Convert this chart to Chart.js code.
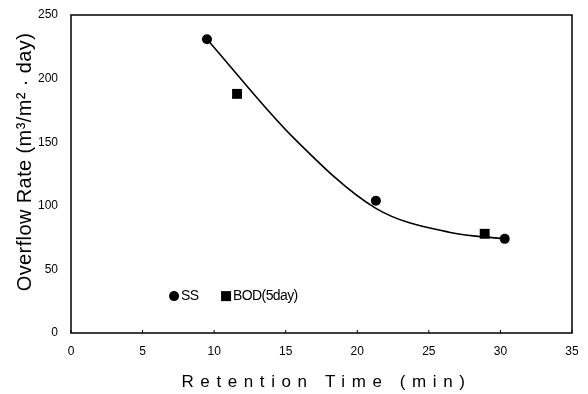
<!DOCTYPE html>
<html><head><meta charset="utf-8">
<script src="https://cdn.jsdelivr.net/npm/chart.js@4.4.1/dist/chart.umd.min.js"></script>
<style>html,body{margin:0;padding:0;background:#fff}</style>
</head><body>
<canvas id="c" width="588" height="394"></canvas>
<script>
// ---- data ----
const ssX = [9.5, 21.3, 30.3];
const ssY = [231, 104, 74];
const bodX = [11.6, 28.9];
const bodY = [188, 78];
const fitX = [9.5, 15.5, 21.3, 26.5, 30.3];
const fitY = [231, 154, 98, 79, 74];
const xTickValues = [0, 5, 10, 15, 20, 25, 30, 35];
const yTickValues = [0, 50, 100, 150, 200, 250];
const seriesNames = ['SS', 'BOD(5day)'];
const xTitle = 'Retention Time (min)';
const yTitle = 'Overflow Rate (m\u00B3/m\u00B2 \u00B7 day)';
const legendAt = {x: 7.2, y: 29};

const zip = (xs, ys) => xs.map((x, i) => ({x, y: ys[i]}));
const tickFont = {family: "'Liberation Sans Narrow','Liberation Sans',Arial,sans-serif", size: 12};

const framePlugin = {
  id: 'frame',
  beforeDraw(chart) {
    const sx = chart.scales.x, sy = chart.scales.y;
    if (!sx._wrapped) {
      const o = sx.drawTitle;
      sx.drawTitle = function () { const ctx = this.ctx; ctx.save(); ctx.letterSpacing = '6.6px'; ctx.translate(5, 0); o.apply(this, arguments); ctx.restore(); };
      sx._wrapped = true;
    }
    if (!sy._wrapped) {
      const o = sy.drawTitle;
      sy.drawTitle = function () { const ctx = this.ctx; ctx.save(); ctx.letterSpacing = '0.4px'; ctx.translate(0, -12); o.apply(this, arguments); ctx.restore(); };
      sy._wrapped = true;
    }
  },
  afterDraw(chart) {
    const {ctx, chartArea: a} = chart;
    const sx = chart.scales.x, sy = chart.scales.y;
    ctx.save();
    ctx.strokeStyle = '#000';
    ctx.lineWidth = 1.5;
    ctx.strokeRect(a.left, a.top, a.right - a.left, a.bottom - a.top);
    ctx.lineWidth = 1;
    ctx.beginPath();
    sx.ticks.forEach(t => {
      const px = sx.getPixelForValue(t.value);
      ctx.moveTo(px, a.bottom); ctx.lineTo(px, a.bottom - 3);
    });
    ctx.stroke();
    // legend inside the plot
    const lx = sx.getPixelForValue(legendAt.x), ly = sy.getPixelForValue(legendAt.y);
    ctx.fillStyle = '#000';
    ctx.beginPath(); ctx.arc(lx, ly, 5, 0, Math.PI * 2); ctx.fill();
    ctx.font = "14px 'Liberation Sans', Arial, sans-serif";
    ctx.textBaseline = 'middle';
    ctx.letterSpacing = '-0.6px';
    ctx.fillText(seriesNames[0], lx + 7, ly);
    ctx.fillRect(lx + 47, ly - 5, 10, 10);
    ctx.fillText(seriesNames[1], lx + 59, ly);
    ctx.restore();
  }
};

new Chart(document.getElementById('c'), {
  type: 'scatter',
  data: {
    datasets: [
      {label: 'fit', data: zip(fitX, fitY), showLine: true, borderColor: '#000', borderWidth: 1.6,
       pointRadius: 0, tension: 0.4, cubicInterpolationMode: 'monotone', fill: false},
      {label: seriesNames[0], data: zip(ssX, ssY), pointStyle: 'circle', pointRadius: 5,
       backgroundColor: '#000', borderColor: '#000', borderWidth: 0},
      {label: seriesNames[1], data: zip(bodX, bodY), pointStyle: 'rect', pointRadius: 7,
       backgroundColor: '#000', borderColor: '#000', borderWidth: 0}
    ]
  },
  options: {
    responsive: false,
    animation: false,
    devicePixelRatio: 1,
    layout: {padding: {top: 15, right: 16, left: 0, bottom: 0}},
    plugins: {legend: {display: false}, tooltip: {enabled: false}},
    scales: {
      x: {
        type: 'linear', min: 0, max: 35,
        afterBuildTicks: s => { s.ticks = xTickValues.map(v => ({value: v})); },
        afterFit: s => { s.height = 61; s.paddingLeft = 0; s.paddingRight = 0; },
        grid: {display: false, drawTicks: false},
        border: {display: false},
        ticks: {color: '#000', font: tickFont, padding: 11},
        title: {display: true, text: xTitle, color: '#000',
                font: {family: "'Liberation Sans',Arial,sans-serif", size: 17}, padding: {top: 0, bottom: 1}}
      },
      y: {
        type: 'linear', min: 0, max: 250,
        afterBuildTicks: s => { s.ticks = yTickValues.map(v => ({value: v})); },
        afterFit: s => { s.width = 71; s.paddingTop = 0; s.paddingBottom = 0; },
        grid: {display: false, drawTicks: false},
        border: {display: false},
        ticks: {color: '#000', font: tickFont, padding: 13},
        title: {display: true, text: yTitle, color: '#000',
                font: {family: "'Liberation Sans',Arial,sans-serif", size: 20}, padding: {top: 13, bottom: 0}}
      }
    }
  },
  plugins: [framePlugin]
});
</script>
</body></html>
